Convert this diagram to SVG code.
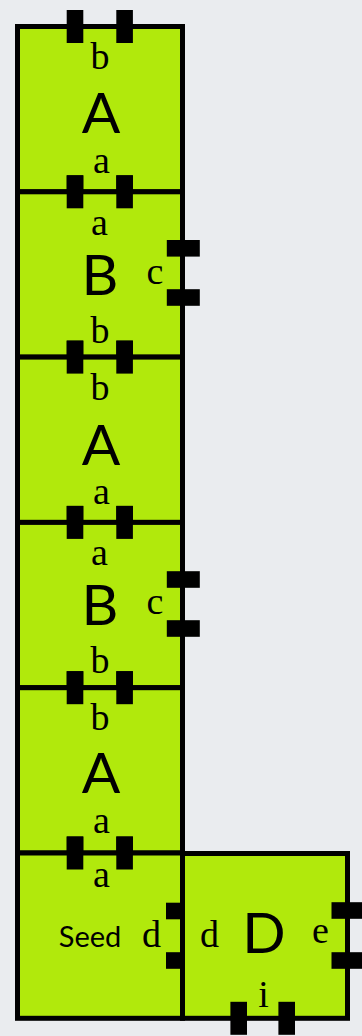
<svg xmlns="http://www.w3.org/2000/svg" width="362" height="1036" viewBox="0 0 362 1036">
<style>
.box{fill:#b1e90c;stroke:#000;stroke-width:5}
.tab{fill:#000}
.lbl{font-family:"Liberation Serif",serif;font-size:38px;fill:#000;text-anchor:middle}
.big{font-family:Lato,"Open Sans",sans-serif;font-size:57px;fill:#000;text-anchor:middle}
.seed{font-family:Lato,"Open Sans",sans-serif;font-size:29px;fill:#000;text-anchor:middle}
</style>
<defs>
<rect id="vt" class="tab" x="-8.3" y="-16.5" width="16.6" height="33"/>
<rect id="ht" class="tab" x="-16.5" y="-8.3" width="33" height="16.6"/>
</defs>
<rect width="362" height="1036" fill="#eaecef"/>
<g id="connectors"/>
<g id="node-A1">
<rect class="box" x="17.5" y="26.5" width="165" height="165.3"/>
<use href="#vt" x="75" y="26.5"/><use href="#vt" x="124.6" y="26.5"/>
<use href="#vt" x="75" y="191.8"/><use href="#vt" x="124.6" y="191.8"/>
<text class="lbl" x="100" y="68.5">b</text>
<text class="big" x="101" y="133">A</text>
<text class="lbl" x="101.5" y="173">a</text>
</g>
<g id="node-B1">
<rect class="box" x="17.5" y="191.8" width="165" height="165.3"/>
<use href="#vt" x="75" y="191.8"/><use href="#vt" x="124.6" y="191.8"/>
<use href="#vt" x="75" y="357.1"/><use href="#vt" x="124.6" y="357.1"/>
<use href="#ht" x="183.3" y="248.3"/><use href="#ht" x="183.3" y="297.5"/>
<text class="lbl" x="99.5" y="235">a</text>
<text class="big" x="100" y="295">B</text>
<text class="lbl" x="155" y="284">c</text>
<text class="lbl" x="100" y="343">b</text>
</g>
<g id="node-A2">
<rect class="box" x="17.5" y="357.1" width="165" height="165.3"/>
<use href="#vt" x="75" y="357.1"/><use href="#vt" x="124.6" y="357.1"/>
<use href="#vt" x="75" y="522.4"/><use href="#vt" x="124.6" y="522.4"/>
<text class="lbl" x="100" y="400">b</text>
<text class="big" x="101" y="465">A</text>
<text class="lbl" x="101.5" y="503.5">a</text>
</g>
<g id="node-B2">
<rect class="box" x="17.5" y="522.4" width="165" height="165.3"/>
<use href="#vt" x="75" y="522.4"/><use href="#vt" x="124.6" y="522.4"/>
<use href="#vt" x="75" y="687.7"/><use href="#vt" x="124.6" y="687.7"/>
<use href="#ht" x="183.3" y="579.5"/><use href="#ht" x="183.3" y="628.5"/>
<text class="lbl" x="99.5" y="565">a</text>
<text class="big" x="100" y="625">B</text>
<text class="lbl" x="155" y="614.3">c</text>
<text class="lbl" x="100" y="673.3">b</text>
</g>
<g id="node-A3">
<rect class="box" x="17.5" y="687.7" width="165" height="165.3"/>
<use href="#vt" x="75" y="687.7"/><use href="#vt" x="124.6" y="687.7"/>
<use href="#vt" x="75" y="853"/><use href="#vt" x="124.6" y="853"/>
<text class="lbl" x="100" y="730">b</text>
<text class="big" x="101" y="792.5">A</text>
<text class="lbl" x="101.5" y="833.3">a</text>
</g>
<g id="node-Seed">
<rect class="box" x="17.5" y="853" width="165" height="165.3"/>
<use href="#vt" x="75" y="853"/><use href="#vt" x="124.6" y="853"/>
<use href="#ht" x="182.5" y="911"/><use href="#ht" x="182.5" y="960.5"/>
<text class="lbl" x="101.5" y="887">a</text>
<text class="seed" x="90" y="946.5">Seed</text>
<text class="lbl" x="151.5" y="947">d</text>
</g>
<g id="node-D">
<rect class="box" x="182.5" y="853.5" width="165" height="164.8"/>
<use href="#ht" x="348" y="910.5"/><use href="#ht" x="348" y="960.5"/>
<use href="#vt" x="238.7" y="1018.3"/><use href="#vt" x="286.7" y="1018.3"/>
<text class="lbl" x="209.5" y="947">d</text>
<text class="big" x="264" y="952.5">D</text>
<text class="lbl" x="320.5" y="943">e</text>
<text class="lbl" x="263.5" y="1006.7">i</text>
</g>
</svg>
